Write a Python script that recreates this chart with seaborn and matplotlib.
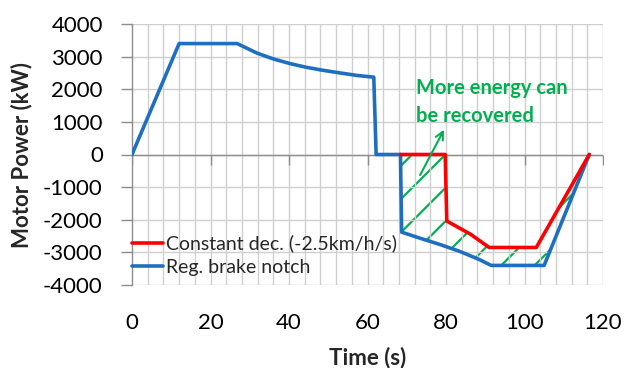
import numpy as np
import pandas as pd
import matplotlib
matplotlib.use("Agg")
import matplotlib.pyplot as plt
from matplotlib.markers import TICKDOWN
import seaborn as sns

# ---------------- data ----------------
blue_t = [0, 12, 26.8, 31.8, 36.0, 40.3, 44.5, 48.7, 53.0, 57.2, 61.6, 62.2,
          68.4, 68.7, 73.5, 78.5, 83.5, 88.5, 91.5, 105.0, 116.5]
blue_p = [0, 3400, 3400, 3110, 2930, 2785, 2670, 2580, 2500, 2425, 2370, 0,
          0, -2380, -2570, -2760, -2970, -3220, -3400, -3400, 0]

red_t = [68.4, 79.8, 80.2, 86.2, 91.0, 103.0, 116.5]
red_p = [0, 0, -2040, -2440, -2850, -2850, 0]

red_label = "Constant dec. (-2.5km/h/s)"
blue_label = "Reg. brake notch"
annot_text = "More energy can\nbe recovered"
x_ticks = [0, 20, 40, 60, 80, 100, 120]
x_minor = list(range(4, 121, 4))
y_ticks = [-4000, -3000, -2000, -1000, 0, 1000, 2000, 3000, 4000]

BLUE = "#1F6FC0"
RED = "#FF0000"
GREEN = "#00B050"
GRID = "#CFCFCF"
AXIS = "#8C8C8C"

sns.set_theme(style="white")
plt.rcParams["font.family"] = ["Lato", "DejaVu Sans"]
plt.rcParams["hatch.linewidth"] = 1.6
plt.rcParams["hatch.color"] = GREEN

fig = plt.figure(figsize=(6.27, 3.68), dpi=100)
ax = fig.add_axes([132 / 627, 1 - 285 / 368, (603 - 132) / 627, (285 - 24) / 368])

df_blue = pd.DataFrame({"t": blue_t, "p": blue_p})
df_red = pd.DataFrame({"t": red_t, "p": red_p})
sns.lineplot(data=df_blue, x="t", y="p", ax=ax, color=BLUE, lw=2.6, sort=False,
             label=blue_label, zorder=3)
sns.lineplot(data=df_red, x="t", y="p", ax=ax, color=RED, lw=2.6, sort=False,
             label=red_label, zorder=4)
ax.set_xlim(0, 120)
ax.set_ylim(-4000, 4000)
ax.set_xticks(x_ticks)
ax.set_yticks(y_ticks)

# hatched region between the curves
poly_t = list(red_t) + list(blue_t[12:][::-1])
poly_p = list(red_p) + list(blue_p[12:][::-1])
ax.fill(poly_t, poly_p, facecolor="none", edgecolor=GREEN, hatch="/", lw=0, zorder=1.8)

# grid (drawn above the hatch layer, below the data lines)
for xv in x_minor:
    ax.axvline(xv, color=GRID, lw=1.0, zorder=2.0)
for yv in y_ticks:
    ax.axhline(yv, color=GRID, lw=1.0, zorder=2.0)

# zero axis line with tick marks
ax.axhline(0, color=AXIS, lw=1.0, zorder=2.1)
ax.plot(x_ticks, [0] * len(x_ticks), ls="none", marker=TICKDOWN, ms=7, mew=1.0,
        color=AXIS, zorder=2.1)

# spines / ticks
for s in ["top", "right", "bottom"]:
    ax.spines[s].set_visible(False)
ax.spines["left"].set_color(AXIS)
ax.spines["left"].set_linewidth(1.0)
ax.tick_params(axis="y", direction="out", length=8, width=1, color=AXIS,
               labelsize=16, pad=13, labelcolor="black", left=True)
ax.tick_params(axis="x", which="both", length=0, labelsize=16, pad=20, labelcolor="black")
ax.set_xticklabels([str(v) for v in x_ticks])
ax.set_yticklabels([str(v) for v in y_ticks])

ax.set_xlabel("Time (s)", fontsize=16, fontweight="bold", labelpad=10)
ax.set_ylabel("Motor Power (kW)", fontsize=16, fontweight="bold", labelpad=8)

# legend (red first)
h, l = ax.get_legend_handles_labels()
order = [l.index(red_label), l.index(blue_label)]
leg = ax.legend([h[i] for i in order], [l[i] for i in order],
                loc="center left", bbox_to_anchor=(0.0, 0.114), frameon=False,
                fontsize=14, handlelength=1.6, handletextpad=0.15,
                labelspacing=0.32, borderpad=0, borderaxespad=0)

# annotation
ax.text(72.4, 2330, annot_text, color=GREEN, fontsize=14.5, fontweight="bold",
        ha="left", va="top", linespacing=1.5, zorder=5)
ax.annotate("", xy=(79.5, 760), xytext=(73.4, -630),
            arrowprops=dict(arrowstyle="->", color=GREEN, lw=1.5,
                            mutation_scale=14, shrinkA=0, shrinkB=0), zorder=5)

fig.savefig("out.png", dpi=100)
